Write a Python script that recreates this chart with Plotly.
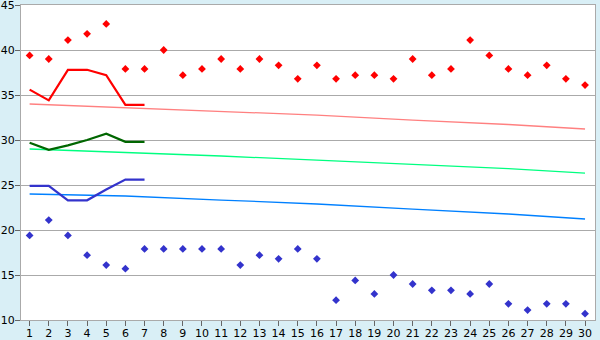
import plotly.graph_objects as go

days = list(range(1, 31))
max_temps = [39.4, 39.0, 41.1, 41.8, 42.9, 37.9, 37.9, 40.0, 37.2, 37.9,
             39.0, 37.9, 39.0, 38.3, 36.8, 38.3, 36.8, 37.2, 37.2, 36.8,
             39.0, 37.2, 37.9, 41.1, 39.4, 37.9, 37.2, 38.3, 36.8, 36.1]
min_temps = [19.4, 21.1, 19.4, 17.2, 16.1, 15.7, 17.9, 17.9, 17.9, 17.9,
             17.9, 16.1, 17.2, 16.8, 17.9, 16.8, 12.2, 14.4, 12.9, 15.0,
             14.0, 13.3, 13.3, 12.9, 14.0, 11.8, 11.1, 11.8, 11.8, 10.7]
fc_days = [1, 2, 3, 4, 5, 6, 7]
fc_high = [35.6, 34.4, 37.8, 37.8, 37.2, 33.9, 33.9]
fc_mean = [29.7, 28.9, 29.4, 30.0, 30.7, 29.8, 29.8]
fc_low = [24.9, 24.9, 23.3, 23.3, 24.5, 25.6, 25.6]
norm_days = [1, 6, 11, 16, 21, 26, 30]
norm_high = [34.0, 33.58, 33.14, 32.76, 32.2, 31.72, 31.22]
norm_mean = [29.0, 28.64, 28.22, 27.76, 27.26, 26.83, 26.33]
norm_low = [24.0, 23.78, 23.33, 22.89, 22.33, 21.78, 21.22]
y_ticks = [10, 15, 20, 25, 30, 35, 40, 45]

fig = go.Figure()
fig.add_trace(go.Scatter(x=norm_days, y=norm_high, mode="lines",
                         line=dict(color="#FF8080", width=1.3)))
fig.add_trace(go.Scatter(x=norm_days, y=norm_mean, mode="lines",
                         line=dict(color="#00FF80", width=1.3)))
fig.add_trace(go.Scatter(x=norm_days, y=norm_low, mode="lines",
                         line=dict(color="#0080FF", width=1.3)))
fig.add_trace(go.Scatter(x=fc_days, y=fc_high, mode="lines",
                         line=dict(color="#FF0000", width=2.2)))
fig.add_trace(go.Scatter(x=fc_days, y=fc_mean, mode="lines",
                         line=dict(color="#006600", width=2.2)))
fig.add_trace(go.Scatter(x=fc_days, y=fc_low, mode="lines",
                         line=dict(color="#3333CC", width=2.2)))
fig.add_trace(go.Scatter(x=days, y=max_temps, mode="markers",
                         marker=dict(symbol="diamond", size=6, color="#FF0000")))
fig.add_trace(go.Scatter(x=days, y=min_temps, mode="markers",
                         marker=dict(symbol="diamond", size=6, color="#3333CC")))

fig.update_layout(
    width=600, height=340,
    margin=dict(l=21, r=5, t=5, b=20),
    paper_bgcolor="#D9EFF6",
    plot_bgcolor="#FFFFFF",
    showlegend=False,
    font=dict(family="DejaVu Sans", size=11, color="#000000"),
)
fig.update_xaxes(
    range=[0.55, 30.52], tickmode="array", tickvals=days,
    ticktext=[str(d) for d in days],
    showgrid=False, zeroline=False, automargin=False,
    showline=True, linecolor="#AAAAAA", linewidth=1, mirror=True,
    ticks="outside", ticklen=5, tickcolor="#666666", tickangle=0,
    ticklabeloverflow="allow", ticklabelstandoff=-2,
)
fig.update_yaxes(
    range=[10, 45], tickmode="array", tickvals=y_ticks,
    showgrid=True, gridcolor="#AAAAAA", gridwidth=1, zeroline=False,
    automargin=False,
    showline=True, linecolor="#AAAAAA", linewidth=1, mirror=True,
    ticks="outside", ticklen=5, tickcolor="#666666",
    ticklabeloverflow="allow", ticklabelstandoff=-2,
)
fig.write_html("out.html")
